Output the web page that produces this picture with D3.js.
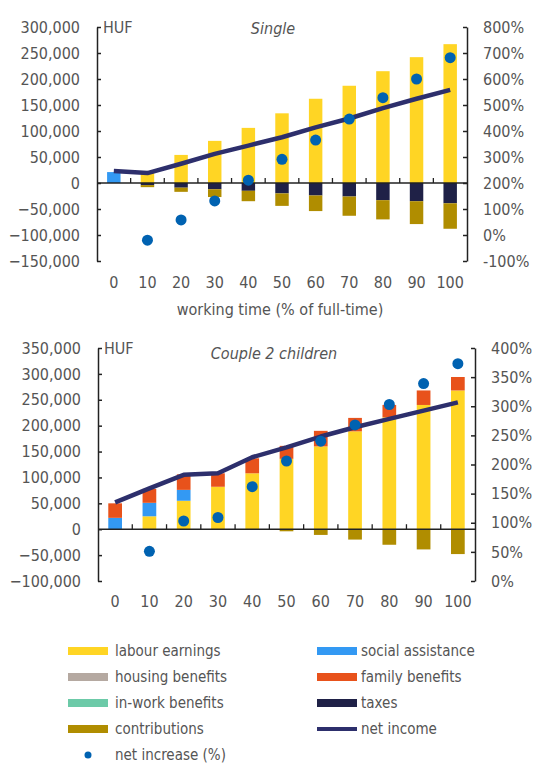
<!DOCTYPE html>
<html>
<head>
<meta charset="utf-8">
<script src="https://cdn.jsdelivr.net/npm/d3@7"></script>
<style>
  body { margin: 0; background: #fff; }
  text { font-family: "DejaVu Sans Condensed", "DejaVu Sans", sans-serif; fill: #555; }
</style>
</head>
<body>
<div id="canvas"></div>
<script>
// working time categories (% of full-time)
const workingTime = [0, 10, 20, 30, 40, 50, 60, 70, 80, 90, 100];

// Single
const singleLabour  = [0, 22000, 54000, 81000, 106000, 134000, 162000, 187000, 215000, 242000, 267000];
const singleSocial  = [21000, 0, 0, 0, 0, 0, 0, 0, 0, 0, 0];
const singleFamily  = [0, 0, 0, 0, 0, 0, 0, 0, 0, 0, 0];
const singleTaxes   = [0, -4000, -9000, -12000, -15000, -20000, -24000, -26000, -33000, -35000, -39000];
const singleContrib = [0, -4000, -8000, -15000, -20000, -24000, -30000, -37000, -37000, -44000, -49000];
const singleNet     = [23000, 19000, 37000, 56000, 72000, 88000, 107000, 124000, 144000, 162000, 179000];
const singleIncrease = [null, -20, 58, 131, 211, 291, 365, 446, 528, 600, 682];

// Couple 2 children
const coupleLabour  = [0, 25000, 55000, 82000, 108000, 136000, 160000, 189000, 216000, 240000, 268000];
const coupleSocial  = [22000, 26000, 21000, 0, 0, 0, 0, 0, 0, 0, 0];
const coupleFamily  = [28000, 27000, 30000, 26000, 29000, 25000, 30000, 26000, 24000, 28000, 26000];
const coupleTaxes   = [0, 0, 0, 0, 0, 0, 0, 0, 0, 0, 0];
const coupleContrib = [0, 0, 0, 0, 0, -4000, -11000, -20000, -30000, -39000, -48000];
const coupleNet     = [52000, 79000, 105000, 108000, 139000, 158000, 179000, 197000, 213000, 229000, 245000];
const coupleIncrease = [null, 51, 103, 109, 162, 206, 240, 268, 303, 339, 373];

const singleTicks = [-150000, -100000, -50000, 0, 50000, 100000, 150000, 200000, 250000, 300000];
const singlePctTicks = [-100, 0, 100, 200, 300, 400, 500, 600, 700, 800];
const coupleTicks = [-100000, -50000, 0, 50000, 100000, 150000, 200000, 250000, 300000, 350000];
const couplePctTicks = [0, 50, 100, 150, 200, 250, 300, 350, 400];

const legendItems = ["labour earnings", "social assistance", "housing benefits", "family benefits",
  "in-work benefits", "taxes", "contributions", "net income", "net increase (%)"];

const colors = {
  labour: "#ffd524",
  social: "#3399f3",
  housing: "#b5a9a1",
  family: "#e8521b",
  inwork: "#6ccaa8",
  taxes: "#1f2147",
  contrib: "#b08d00",
  net: "#2d2f6c",
  dot: "#0062b1"
};
const keys = ["labour", "social", "housing", "family", "inwork", "taxes", "contrib"];

const svg = d3.select("#canvas").append("svg")
  .attr("width", 535)
  .attr("height", 765);

function drawChart(cfg) {
  const rows = workingTime.map((w, i) => ({
    wt: w,
    labour: cfg.labour[i], social: cfg.social[i], housing: 0,
    family: cfg.family[i], inwork: 0, taxes: cfg.taxes[i], contrib: cfg.contrib[i],
    net: cfg.net[i], inc: cfg.inc[i]
  }));

  const x = d3.scaleBand()
    .domain(workingTime)
    .range([cfg.left, cfg.right])
    .paddingInner(0.6)
    .paddingOuter(0.3);
  const y = d3.scaleLinear()
    .domain(cfg.yDomain)
    .range([cfg.bottom, cfg.top]);
  const y2 = d3.scaleLinear()
    .domain(cfg.y2Domain)
    .range([cfg.bottom, cfg.top]);

  const g = svg.append("g");

  // stacked bars
  const series = d3.stack().keys(keys).offset(d3.stackOffsetDiverging)(rows);
  g.selectAll("g.layer").data(series).enter().append("g")
    .attr("class", "layer")
    .attr("fill", s => colors[s.key])
    .selectAll("rect").data(s => s).enter().append("rect")
      .attr("x", d => x(d.data.wt))
      .attr("width", x.bandwidth())
      .attr("y", d => y(Math.max(d[0], d[1])))
      .attr("height", d => Math.abs(y(d[0]) - y(d[1])));

  // zero line with ticks between categories
  const step = x.step();
  g.append("line")
    .attr("x1", cfg.left).attr("x2", cfg.right)
    .attr("y1", y(0)).attr("y2", y(0))
    .attr("stroke", "#222").attr("stroke-width", 1.5);
  g.selectAll("line.xtick").data(workingTime.slice(1)).enter().append("line")
    .attr("class", "xtick")
    .attr("x1", d => x(d) - x.paddingInner() * step / 2)
    .attr("x2", d => x(d) - x.paddingInner() * step / 2)
    .attr("y1", y(0)).attr("y2", y(0) - 5)
    .attr("stroke", "#222").attr("stroke-width", 1.3);

  // left axis
  const ax = g.append("g")
    .attr("transform", `translate(${cfg.left},0)`)
    .call(d3.axisLeft(y).tickValues(cfg.ticks).tickFormat(d3.format(",")).tickSizeInner(-4).tickSizeOuter(0).tickPadding(17));
  // right axis
  const ax2 = g.append("g")
    .attr("transform", `translate(${cfg.right},0)`)
    .call(d3.axisRight(y2).tickValues(cfg.pctTicks).tickFormat(d => d + "%").tickSizeInner(-4).tickSizeOuter(0).tickPadding(16));
  [ax, ax2].forEach(a => {
    a.selectAll("path, line").attr("stroke", "#222").attr("stroke-width", 1.5);
    a.selectAll("text").attr("font-size", 16).attr("font-family", null).attr("fill", null);
  });

  // category labels
  const axb = g.append("g")
    .attr("transform", `translate(0,${cfg.bottom})`)
    .call(d3.axisBottom(x).tickSize(0).tickPadding(cfg.xPad));
  axb.select(".domain").remove();
  axb.selectAll("text").attr("font-size", 16).attr("font-family", null).attr("fill", null);

  // net income line
  g.append("path")
    .datum(rows)
    .attr("fill", "none")
    .attr("stroke", colors.net)
    .attr("stroke-width", 4.5)
    .attr("stroke-linejoin", "round")
    .attr("d", d3.line().x(d => x(d.wt) + x.bandwidth() / 2).y(d => y(d.net)));

  // net increase dots
  g.selectAll("circle").data(rows.filter(d => d.inc !== null)).enter().append("circle")
    .attr("cx", d => x(d.wt) + x.bandwidth() / 2)
    .attr("cy", d => y2(d.inc))
    .attr("r", 5.5)
    .attr("fill", colors.dot);

  g.append("text")
    .attr("x", cfg.left + 6).attr("y", cfg.top).attr("dy", "0.35em")
    .attr("font-size", 16)
    .text("HUF");
  g.append("text")
    .attr("x", cfg.titleX).attr("y", cfg.titleY).attr("dy", "0.35em")
    .attr("text-anchor", "middle")
    .attr("font-size", 16)
    .attr("font-style", "italic")
    .text(cfg.title);
  if (cfg.xTitle) {
    g.append("text")
      .attr("x", (cfg.left + cfg.right) / 2 - 2).attr("y", cfg.bottom + 48).attr("dy", "0.35em")
      .attr("text-anchor", "middle")
      .attr("font-size", 16)
      .text(cfg.xTitle);
  }
}

drawChart({
  labour: singleLabour, social: singleSocial, family: singleFamily, taxes: singleTaxes,
  contrib: singleContrib, net: singleNet, inc: singleIncrease,
  left: 97, right: 467, top: 27, bottom: 261,
  yDomain: [-150000, 300000], y2Domain: [-100, 800],
  ticks: singleTicks, pctTicks: singlePctTicks,
  title: "Single", titleX: 273, titleY: 28, xPad: 16,
  xTitle: "working time (% of full-time)"
});

drawChart({
  labour: coupleLabour, social: coupleSocial, family: coupleFamily, taxes: coupleTaxes,
  contrib: coupleContrib, net: coupleNet, inc: coupleIncrease,
  left: 98, right: 475, top: 348, bottom: 581,
  yDomain: [-100000, 350000], y2Domain: [0, 400],
  ticks: coupleTicks, pctTicks: couplePctTicks,
  title: "Couple 2 children", titleX: 274, titleY: 353, xPad: 15,
  xTitle: null
});

// legend
const legendKeys = ["labour", "social", "housing", "family", "inwork", "taxes", "contrib", "net", "dot"];
const lg = svg.append("g");
legendItems.forEach((label, i) => {
  const col = i % 2;
  const row = Math.floor(i / 2);
  const sx = col === 0 ? 68 : 317;
  const yy = 651 + row * 26;
  const key = legendKeys[i];
  if (key === "dot") {
    lg.append("circle").attr("cx", sx + 20).attr("cy", yy).attr("r", 3.5).attr("fill", colors.dot);
  } else {
    lg.append("line")
      .attr("x1", sx).attr("x2", sx + 40)
      .attr("y1", yy).attr("y2", yy)
      .attr("stroke", colors[key])
      .attr("stroke-width", key === "net" ? 4 : 8);
  }
  lg.append("text")
    .attr("x", sx + (col === 0 ? 47 : 44)).attr("y", yy).attr("dy", "0.33em")
    .attr("font-size", 15)
    .text(label);
});
</script>
</body>
</html>
